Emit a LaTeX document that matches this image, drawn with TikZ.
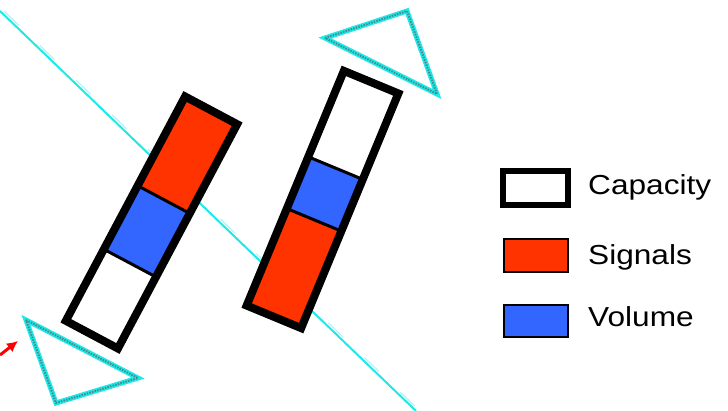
\documentclass[tikz,border=0pt]{standalone}
\usepackage{graphicx}
\usepackage{fontspec}
\setmainfont{Liberation Sans}
\usetikzlibrary{arrows.meta}
\definecolor{sigred}{RGB}{255,51,0}
\definecolor{volblue}{RGB}{51,102,255}
\definecolor{lcyan}{RGB}{30,232,232}
\definecolor{tealdot}{RGB}{70,140,140}
\tikzset{
  barframe/.style={draw=black,line width=8pt,line join=miter},
  divider/.style={draw=black,line width=3pt},
  tricyan/.style={draw=lcyan,line width=5pt,line join=miter,fill=white},
  tridots/.style={draw=tealdot,line width=2pt,dash pattern=on 1.5pt off 1.2pt},
  legtext/.style={anchor=base west,inner sep=0pt,font=\fontsize{27.5}{30}\selectfont},
  legbox/.style={minimum width=64pt,minimum height=33pt,inner sep=0pt,draw=black,line width=2pt}
}
\begin{document}
\begin{tikzpicture}[x=1pt,y=-1pt]
\useasboundingbox[fill=white] (0,0) rectangle (728,411);

% cyan guide line
\coordinate (ls) at (0,11);
\coordinate (le) at (416,411);
\draw[lcyan,line width=2pt] (ls) -- (le);
\draw[lcyan!40,line width=1pt,dash pattern=on 20pt off 30pt] ([xshift=4pt]ls) -- ([xshift=4pt]le);

% left bar
\begin{scope}[shift={(151.5,222.5)},rotate=-28]
  \fill[sigred] (-29.5,-127) rectangle (29.5,-26);
  \fill[volblue] (-29.5,-26) rectangle (29.5,46);
  \fill[white] (-29.5,46) rectangle (29.5,127);
  \draw[divider] (-29.5,-26) -- (29.5,-26);
  \draw[divider] (-29.5,46) -- (29.5,46);
  \draw[barframe] (-29.5,-127) rectangle (29.5,127);
\end{scope}

% right bar
\begin{scope}[shift={(322.5,199.5)},rotate=-22.5]
  \fill[white] (-29.5,-127) rectangle (29.5,-34);
  \fill[volblue] (-29.5,-34) rectangle (29.5,22);
  \fill[sigred] (-29.5,22) rectangle (29.5,127);
  \draw[divider] (-29.5,-34) -- (29.5,-34);
  \draw[divider] (-29.5,22) -- (29.5,22);
  \draw[barframe] (-29.5,-127) rectangle (29.5,127);
\end{scope}

% triangles
\draw[tricyan] (325,38) -- (407,11) -- (437,94) -- cycle;
\draw[tridots] (325,38) -- (407,11) -- (437,94) -- cycle;
\draw[tricyan] (26,320) -- (138,378) -- (56,403) -- cycle;
\draw[tridots] (26,320) -- (138,378) -- (56,403) -- cycle;

% red arrow
\coordinate (ra) at (0,355);
\coordinate (rb) at (18,341);
\draw[red,line width=3pt,-{Latex[length=11pt,width=11pt]}] (ra) -- (rb);

% legend
\node[legbox,line width=6pt,minimum width=65pt,minimum height=34pt,fill=white] (capbox) at (535.5,188) {};
\node[legbox,fill=sigred] (sigbox) at (536,256) {};
\node[legbox,fill=volblue,minimum height=32pt] (volbox) at (536,321) {};
\node[legtext] (captxt) at (588,195) {\scalebox{1.15}[1]{Capacity}};
\node[legtext] (sigtxt) at (588,265) {\scalebox{1.15}[1]{Signals}};
\node[legtext] (voltxt) at (588,327) {\scalebox{1.15}[1]{Volume}};
\end{tikzpicture}
\end{document}
